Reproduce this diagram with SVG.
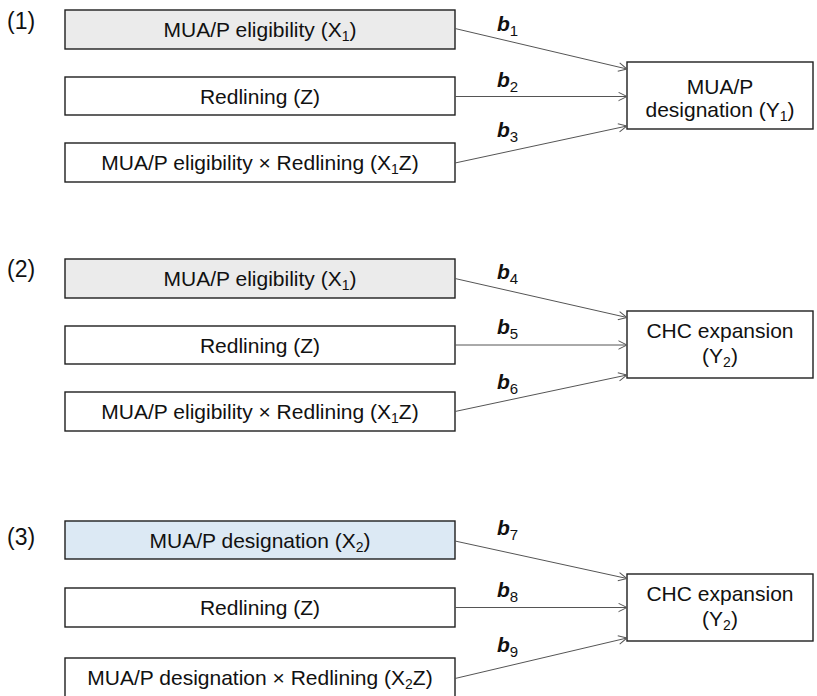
<svg xmlns="http://www.w3.org/2000/svg" width="817" height="696" viewBox="0 0 817 696">
  <style>
    .box { fill: #ffffff; stroke: #1f1f1f; stroke-width: 1.4; }
    .grey { fill: #ebebeb; }
    .blue { fill: #dce9f4; }
    .lbl { font-family: "Liberation Sans", Arial, sans-serif; font-size: 21px; fill: #111; text-anchor: middle; }
    .num { font-family: "Liberation Sans", Arial, sans-serif; font-size: 23px; fill: #111; }
    .coef { font-family: "Liberation Sans", Arial, sans-serif; font-size: 21px; font-style: italic; font-weight: bold; fill: #111; }
    .s { font-size: 14px; font-style: normal; font-weight: normal; }
    .cs { font-size: 15px; font-style: normal; font-weight: normal; }
    .edge { stroke: #555; stroke-width: 1; fill: none; marker-end: url(#open); }
  </style>
  <defs>
    <marker id="open" viewBox="0 0 10 10" refX="9.5" refY="5" markerWidth="10" markerHeight="10" markerUnits="userSpaceOnUse" orient="auto">
      <path d="M1,0.8 L9.5,5 L1,9.2" fill="none" stroke="#555" stroke-width="1"/>
    </marker>
  </defs>
  <rect width="817" height="696" fill="#ffffff"/>

  <!-- model (1) -->
  <text class="num" x="7" y="29">(1)</text>
  <g id="m1-x1">
    <rect class="box grey" x="65" y="10" width="390" height="39"/>
    <text class="lbl" x="260" y="37">MUA/P eligibility (X<tspan class="s" dy="4">1</tspan><tspan dy="-4">)</tspan></text>
  </g>
  <g id="m1-z">
    <rect class="box" x="65" y="77" width="390" height="38"/>
    <text class="lbl" x="260" y="103.5">Redlining (Z)</text>
  </g>
  <g id="m1-x1z">
    <rect class="box" x="65" y="143" width="390" height="39"/>
    <text class="lbl" x="260" y="170">MUA/P eligibility × Redlining (X<tspan class="s" dy="4">1</tspan><tspan dy="-4">Z)</tspan></text>
  </g>
  <g id="m1-y1">
    <rect class="box" x="627" y="62" width="186" height="67"/>
    <text class="lbl" x="720" y="94">MUA/P</text>
    <text class="lbl" x="720" y="117">designation (Y<tspan class="s" dy="4">1</tspan><tspan dy="-4">)</tspan></text>
  </g>

  <!-- model (2) -->
  <text class="num" x="7" y="277">(2)</text>
  <g id="m2-x1">
    <rect class="box grey" x="65" y="259" width="390" height="39"/>
    <text class="lbl" x="260" y="286">MUA/P eligibility (X<tspan class="s" dy="4">1</tspan><tspan dy="-4">)</tspan></text>
  </g>
  <g id="m2-z">
    <rect class="box" x="65" y="326" width="390" height="38"/>
    <text class="lbl" x="260" y="352.5">Redlining (Z)</text>
  </g>
  <g id="m2-x1z">
    <rect class="box" x="65" y="392" width="390" height="39"/>
    <text class="lbl" x="260" y="419">MUA/P eligibility × Redlining (X<tspan class="s" dy="4">1</tspan><tspan dy="-4">Z)</tspan></text>
  </g>
  <g id="m2-y2">
    <rect class="box" x="627" y="311" width="186" height="67"/>
    <text class="lbl" x="720" y="338">CHC expansion</text>
    <text class="lbl" x="720" y="363">(Y<tspan class="s" dy="4">2</tspan><tspan dy="-4">)</tspan></text>
  </g>

  <!-- model (3) -->
  <text class="num" x="7" y="545">(3)</text>
  <g id="m3-x2">
    <rect class="box blue" x="65" y="521" width="390" height="38"/>
    <text class="lbl" x="260" y="547.5">MUA/P designation (X<tspan class="s" dy="4">2</tspan><tspan dy="-4">)</tspan></text>
  </g>
  <g id="m3-z">
    <rect class="box" x="65" y="588" width="390" height="39"/>
    <text class="lbl" x="260" y="614.5">Redlining (Z)</text>
  </g>
  <g id="m3-x2z">
    <rect class="box" x="65" y="658" width="390" height="44"/>
    <text class="lbl" x="260" y="685">MUA/P designation × Redlining (X<tspan class="s" dy="4">2</tspan><tspan dy="-4">Z)</tspan></text>
  </g>
  <g id="m3-y2">
    <rect class="box" x="627" y="574" width="186" height="67"/>
    <text class="lbl" x="720" y="601">CHC expansion</text>
    <text class="lbl" x="720" y="626">(Y<tspan class="s" dy="4">2</tspan><tspan dy="-4">)</tspan></text>
  </g>

  <!-- connectors -->
  <g id="connectors">
    <line class="edge" x1="455" y1="28.5" x2="627" y2="69"/>
    <line class="edge" x1="455" y1="96.5" x2="627" y2="96.5"/>
    <line class="edge" x1="455" y1="163" x2="627" y2="126"/>

    <line class="edge" x1="455" y1="278.5" x2="627" y2="317.5"/>
    <line class="edge" x1="455" y1="345" x2="627" y2="345"/>
    <line class="edge" x1="455" y1="411.5" x2="627" y2="375"/>

    <line class="edge" x1="455" y1="541" x2="627" y2="578.5"/>
    <line class="edge" x1="455" y1="607.5" x2="627" y2="607.5"/>
    <line class="edge" x1="455" y1="678.5" x2="627" y2="638"/>

    <text class="coef" x="497" y="31">b<tspan class="cs" dy="5">1</tspan></text>
    <text class="coef" x="497" y="87">b<tspan class="cs" dy="5">2</tspan></text>
    <text class="coef" x="497" y="137">b<tspan class="cs" dy="5">3</tspan></text>
    <text class="coef" x="497" y="279">b<tspan class="cs" dy="5">4</tspan></text>
    <text class="coef" x="497" y="334">b<tspan class="cs" dy="5">5</tspan></text>
    <text class="coef" x="497" y="389">b<tspan class="cs" dy="5">6</tspan></text>
    <text class="coef" x="497" y="535">b<tspan class="cs" dy="5">7</tspan></text>
    <text class="coef" x="497" y="597">b<tspan class="cs" dy="5">8</tspan></text>
    <text class="coef" x="497" y="652">b<tspan class="cs" dy="5">9</tspan></text>
  </g>
</svg>
